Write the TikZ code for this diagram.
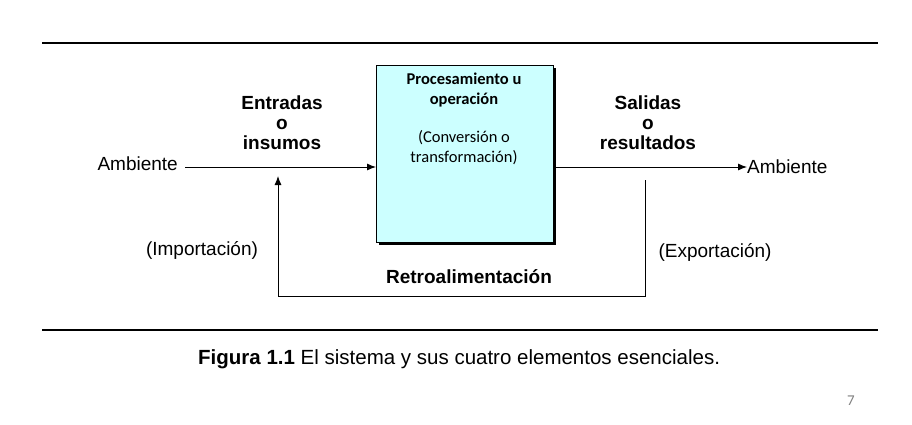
\documentclass[tikz,border=0pt]{standalone}
\usepackage{fontspec}
\usetikzlibrary{arrows.meta}
\setmainfont{Liberation Sans}
\newfontfamily\carfont{Carlito}
\definecolor{boxc}{HTML}{CCFFFF}
\begin{document}
\begin{tikzpicture}[x=1pt,y=-1pt,
  lbl/.style={font=\fontsize{19}{21}\selectfont, inner sep=0pt},
  bl/.style={font=\bfseries\fontsize{19}{20}\selectfont, align=center, inner sep=0pt},
  rule/.style={line width=1.6pt},
  con/.style={line width=0.9pt},
  arr/.style={con,-{Latex[length=9pt,width=7pt]}}]
\useasboundingbox (0,0) rectangle (912,425);
\draw[rule] (42,43) -- (878,43);
\draw[rule] (42,330) -- (878,330);
\fill (379,68) rectangle (556,245);
\node[draw=black, fill=boxc, minimum width=177pt, minimum height=177pt, inner sep=0pt, anchor=north west] (box) at (376,65) {};
\node[font=\carfont\bfseries\fontsize{16.5}{20}\selectfont, align=center, anchor=north] (t1) at (464,69) {Procesamiento u\\operación};
\node[font=\carfont\fontsize{16.5}{20}\selectfont, align=center, anchor=north] (t2) at (464,127) {(Conversión o\\transformación)};
\node[lbl, anchor=east] (amb1) at (178,164) {Ambiente};
\node[lbl, anchor=west] (amb2) at (747,167) {Ambiente};
\coordinate (a1) at (185,167);
\coordinate (a2) at (553,167);
\draw[arr] (a1) -- (box.west|-a1);
\draw[arr] (a2) -- (amb2.west);
\node[bl] (ent) at (282,123) {Entradas\\o\\insumos};
\node[bl] (sal) at (648,123) {Salidas\\o\\resultados};
\node[lbl] (imp) at (202,250) {(Importación)};
\node[lbl] (exp) at (715,252) {(Exportación)};
\node[bl] (ret) at (469,277) {Retroalimentación};
\coordinate (f1) at (645,180);
\coordinate (f2) at (645,296);
\coordinate (f3) at (278,296);
\coordinate (f4) at (278,176);
\draw[arr] (f1) -- (f2) -- (f3) -- (f4);
\node[font=\fontsize{20.5}{23}\selectfont, anchor=west, inner sep=0pt] (cap) at (198,359) {\textbf{Figura 1.1} El sistema y sus cuatro elementos esenciales.};
\node[font=\carfont\fontsize{15}{17}\selectfont, text=gray] (pg) at (851,401) {7};
\end{tikzpicture}
\end{document}
